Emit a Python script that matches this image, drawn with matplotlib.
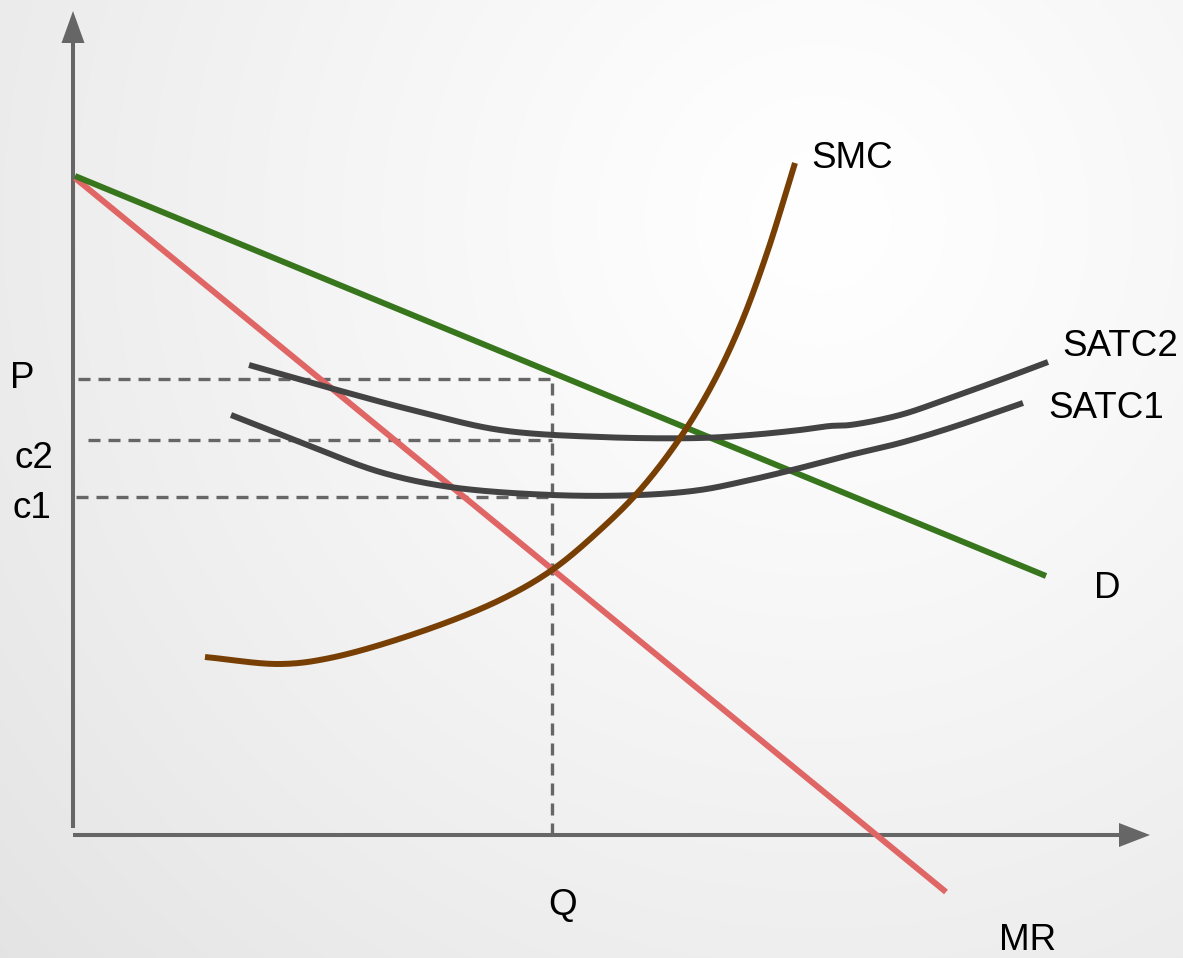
import numpy as np
import matplotlib
matplotlib.use("Agg")
import matplotlib.pyplot as plt

# ---- data (coordinates relative to the origin of the diagram) ----
D_x = [2, 973]
D_y = [659, 259]

MR_x = [2, 873]
MR_y = [657, -57]

SMC_x = [132, 207, 257, 347, 427, 479, 527, 567, 607, 639, 667, 694, 722]
SMC_y = [178, 171, 177, 203, 235, 265, 305, 345, 397, 450, 509, 582, 672]

SATC2_x = [176, 257, 347, 427, 527, 627, 677, 727, 757, 777, 827, 877, 927, 975]
SATC2_y = [470, 447, 423, 405, 398, 397, 400, 405, 409, 410, 420, 437, 455, 473]

SATC1_x = [158, 227, 307, 377, 479, 567, 627, 677, 727, 777, 827, 877, 950]
SATC1_y = [420, 393, 363, 348, 340, 340, 345, 355, 367, 380, 392, 407, 432]

P_level, c2_level, c1_level = 456, 395, 338
Q_level = 479

label_text = ["P", "c2", "c1", "Q", "MR", "D", "SMC", "SATC2", "SATC1"]
label_x = [-51, -39, -41, 490, 955, 1034, 779, 1047, 1033]
label_y = [457, 377, 327, -70, -105, 247, 677, 489, 427]


def smooth(xs, ys, n=40):
    """Centripetal Catmull-Rom curve through the given points."""
    pts = np.column_stack([xs, ys]).astype(float)
    p = np.vstack([2 * pts[0] - pts[1], pts, 2 * pts[-1] - pts[-2]])
    out = []
    for i in range(1, len(p) - 2):
        p0, p1, p2, p3 = p[i - 1], p[i], p[i + 1], p[i + 2]
        t0 = 0.0
        t1 = t0 + np.linalg.norm(p1 - p0) ** 0.5
        t2 = t1 + np.linalg.norm(p2 - p1) ** 0.5
        t3 = t2 + np.linalg.norm(p3 - p2) ** 0.5
        t = np.linspace(t1, t2, n, endpoint=False)[:, None]
        a1 = (t1 - t) / (t1 - t0) * p0 + (t - t0) / (t1 - t0) * p1
        a2 = (t2 - t) / (t2 - t1) * p1 + (t - t1) / (t2 - t1) * p2
        a3 = (t3 - t) / (t3 - t2) * p2 + (t - t2) / (t3 - t2) * p3
        b1 = (t2 - t) / (t2 - t0) * a1 + (t - t0) / (t2 - t0) * a2
        b2 = (t3 - t) / (t3 - t1) * a2 + (t - t1) / (t3 - t1) * a3
        c = (t2 - t) / (t2 - t1) * b1 + (t - t1) / (t2 - t1) * b2
        out.append(c)
    out.append(pts[-1][None, :])
    c = np.vstack(out)
    return c[:, 0], c[:, 1]


# ---- figure ----
plt.rcParams["font.family"] = ["Liberation Sans", "DejaVu Sans"]
fig = plt.figure(figsize=(11.83, 9.58), dpi=100)
ax = fig.add_axes([0, 0, 1, 1])
ax.set_xlim(-73, 1110)
ax.set_ylim(-123, 835)
ax.axis("off")

# background radial gradient
H, W = 958, 1183
yy, xx = np.mgrid[0:H, 0:W]
r = np.sqrt((xx - 820) ** 2 + (yy - 220) ** 2) / 1000.0
v = 1.0 - 0.095 * np.clip(r, 0, 1.2) ** 1.2
img = np.dstack([v, v, v])
ax.imshow(img, extent=[-73, 1110, -123, 835], origin="upper", aspect="auto", zorder=0)

axis_col = "#666666"
# axes with arrows
ax.plot([0, 0], [7, 795], color=axis_col, lw=2.9, solid_capstyle="butt", zorder=2)
ax.plot([0, 1050], [0, 0], color=axis_col, lw=2.9, solid_capstyle="butt", zorder=2)
ax.fill([-11.5, 11.5, 0], [792, 792, 824], color=axis_col, lw=0, zorder=2)
ax.fill([1046, 1046, 1077], [12, -12, 0], color=axis_col, lw=0, zorder=2)

# dashed guide lines
dash = dict(color=axis_col, lw=2.4, ls=(0, (3.6, 2.4)), zorder=2)
ax.plot([5, Q_level], [P_level, P_level], **dash)
ax.plot([15, Q_level], [c2_level, c2_level], **dash)
ax.plot([3, Q_level], [c1_level, c1_level], **dash)
ax.plot([Q_level, Q_level], [0, P_level], **dash)

lw = 4.3
ax.plot(MR_x, MR_y, color="#e06666", lw=lw, solid_capstyle="butt", zorder=3)
ax.plot(D_x, D_y, color="#38761d", lw=lw, solid_capstyle="butt", zorder=4)

sx, sy = smooth(SATC2_x, SATC2_y)
ax.plot(sx, sy, color="#434343", lw=lw, solid_capstyle="butt", zorder=5)
sx, sy = smooth(SATC1_x, SATC1_y)
ax.plot(sx, sy, color="#434343", lw=lw, solid_capstyle="butt", zorder=5)
sx, sy = smooth(SMC_x, SMC_y)
ax.plot(sx, sy, color="#783f04", lw=lw, solid_capstyle="butt", zorder=6)

for t, x, y in zip(label_text, label_x, label_y):
    ax.text(x, y, t, fontsize=26.5, ha="center", va="center", color="black", zorder=7)

fig.savefig("out.png", dpi=100)
